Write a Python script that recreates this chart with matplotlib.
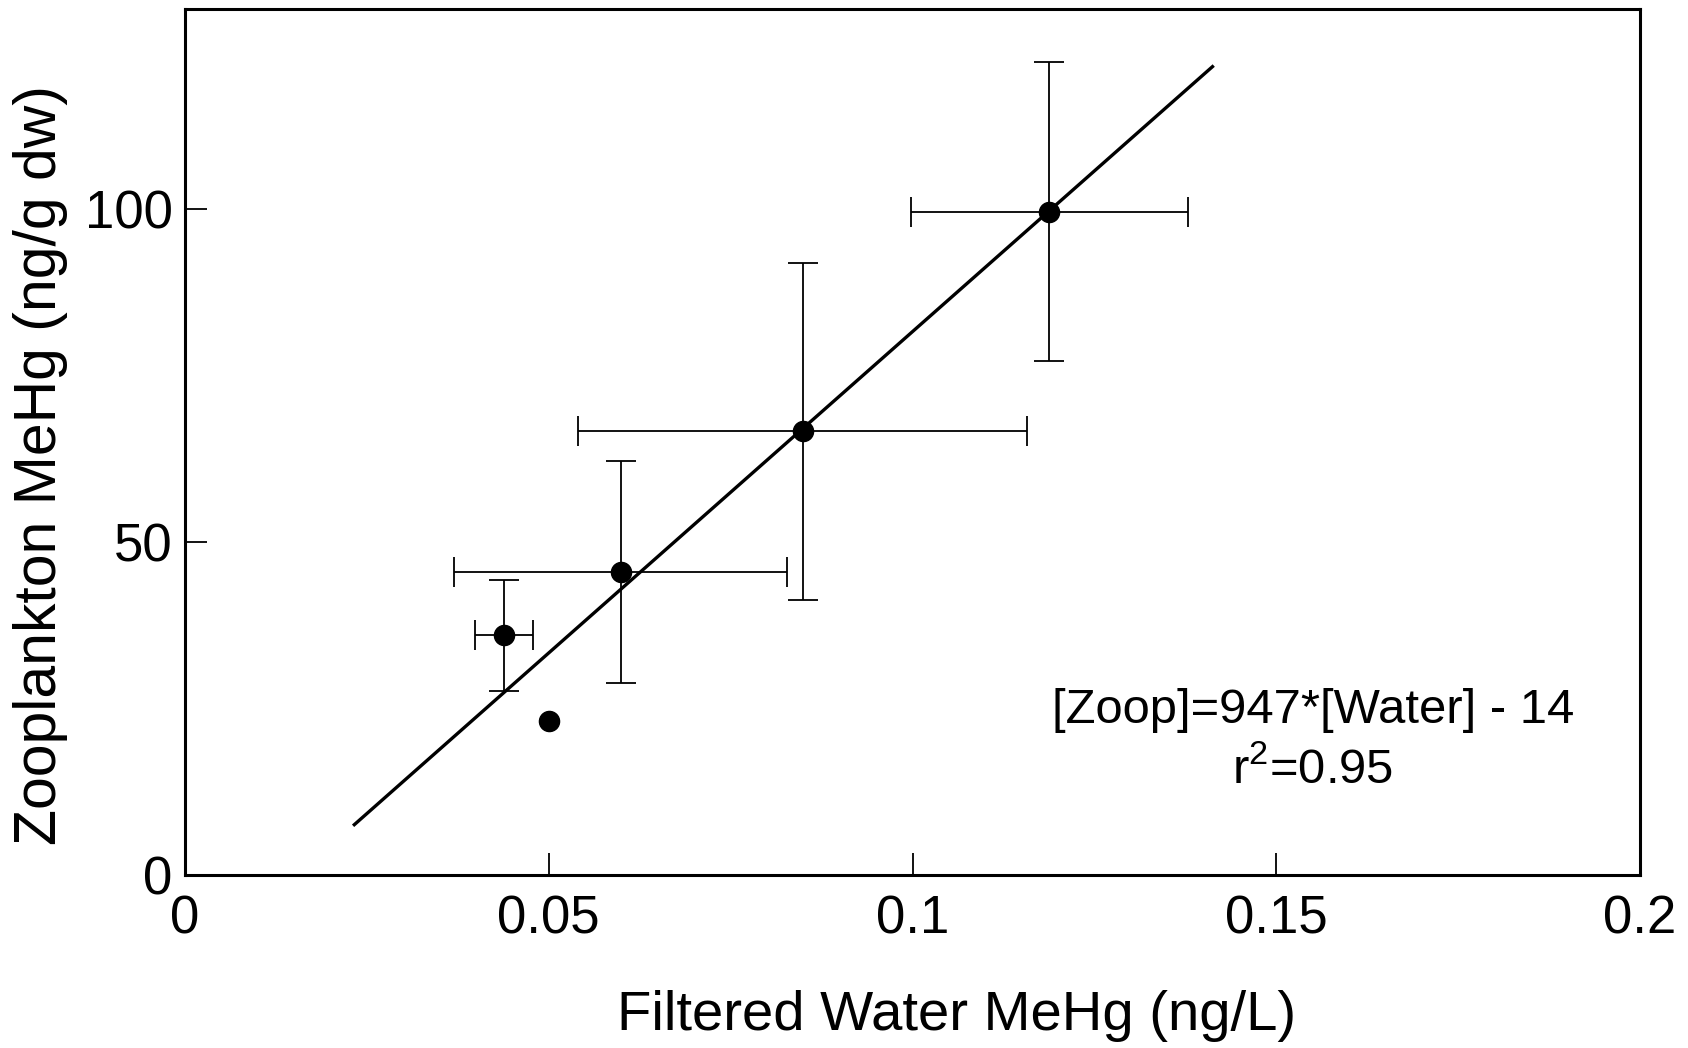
import matplotlib
matplotlib.use('Agg')
import matplotlib.pyplot as plt
import numpy as np

plt.rcParams['font.family'] = ['Liberation Sans', 'DejaVu Sans']
plt.rcParams['mathtext.fontset'] = 'custom'
plt.rcParams['mathtext.rm'] = 'Liberation Sans'
plt.rcParams['mathtext.it'] = 'Liberation Sans'

# water MeHg (ng/L) vs zooplankton MeHg (ng/g dw)
water = [0.0439, 0.0500, 0.0599, 0.0849, 0.1188]
zoop = [36.0, 23.1, 45.5, 66.6, 99.5]
water_err = [0.0040, 0.0, 0.0229, 0.0309, 0.0190]
zoop_lo = [8.3, 0.0, 16.7, 25.3, 22.3]
zoop_hi = [8.3, 0.0, 16.7, 25.3, 22.6]

# regression line as drawn: [Zoop] = 947*[Water] - 14
fit_x = [0.0231, 0.1414]
fit_y = [7.4, 121.5]

xticks = [0, 0.05, 0.1, 0.15, 0.2]
xticklabels = ['0', '0.05', '0.1', '0.15', '0.2']
yticks = [0, 50, 100]

fig = plt.figure(figsize=(16.88, 10.48), dpi=100)
ax = fig.add_axes([0.1096, 0.165, 0.862, 0.8265])

ax.plot(fit_x, fit_y, color='black', lw=2.4, solid_capstyle='butt')

idx = [i for i in range(len(water)) if zoop_lo[i] > 0]
ax.errorbar([water[i] for i in idx], [zoop[i] for i in idx],
            xerr=[water_err[i] for i in idx],
            yerr=[[zoop_lo[i] for i in idx], [zoop_hi[i] for i in idx]],
            fmt='none', ecolor='black', elinewidth=1.3, capsize=11, capthick=1.3)
ax.plot(water, zoop, 'o', color='black', ms=14.5, zorder=5)

ax.set_xlim(0, 0.2)
ax.set_ylim(0, 130)
ax.set_xticks(xticks)
ax.set_xticklabels(xticklabels)
ax.set_yticks(yticks)

ax.tick_params(axis='both', direction='in', length=16, width=1.3, color='black')
ax.tick_params(axis='x', labelsize=38, pad=14)
ax.tick_params(axis='y', labelsize=38, pad=9)
for sp in ax.spines.values():
    sp.set_linewidth(2.2)

ax.set_xlabel('Filtered Water MeHg (ng/L)', fontsize=40.5, labelpad=33)
ax.set_ylabel('Zooplankton MeHg (ng/g dw)', fontsize=42.4, labelpad=12)
ax.xaxis.label.set_x(0.5306)
ax.yaxis.label.set_y(0.473)

ax.text(0.155, 24.7, '[Zoop]=947*[Water] - 14', fontsize=35.3, ha='center', va='center')
ax.text(0.155, 15.8, r'r$^2$=0.95', fontsize=35.3, ha='center', va='center')

plt.savefig('out.png', dpi=100)
plt.close()
